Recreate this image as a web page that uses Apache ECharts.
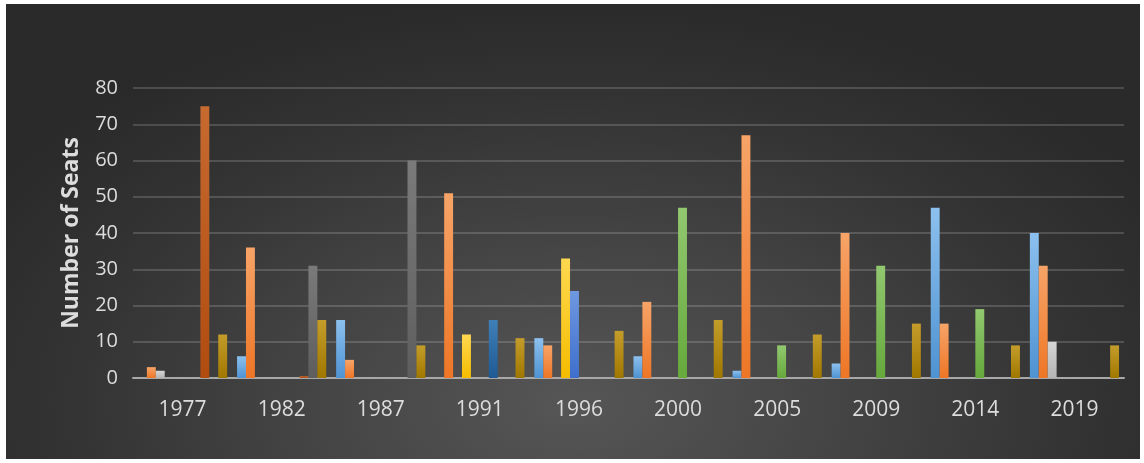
<!DOCTYPE html>
<html>
<head>
<meta charset="utf-8">
<script src="https://cdn.jsdelivr.net/npm/echarts@6/dist/echarts.min.js"></script>
<style>
  html, body { margin: 0; padding: 0; background: #ffffff; }
  #bg { position: absolute; left: 6px; top: 4px; width: 1134px; height: 455px;
        background: radial-gradient(ellipse 60% 90% at 50% 88%, #565656 0%, #444444 40%, #333333 75%, #2a2a2a 100%); }
  #chart { position: absolute; left: 0; top: 0; width: 1144px; height: 463px; }
</style>
</head>
<body>
<div id="bg"></div>
<div id="chart"></div>
<script>
const categories = ['1977', '1982', '1987', '1991', '1996', '2000', '2005', '2009', '2014', '2019'];
const yTicks = [0, 10, 20, 30, 40, 50, 60, 70, 80];

const series1 = [0, 6, 16, 0, 11, 6, 2, 4, 47, 40];
const series2 = [3, 36, 5, 51, 9, 21, 67, 40, 15, 31];
const series3 = [2, 0, 0, 0, 0, 0, 0, 0, 0, 10];
const series4 = [0, 0, 0, 12, 33, 0, 0, 0, 0, 0];
const series5 = [0, 0, 0, 0, 24, 0, 0, 0, 0, 0];
const series6 = [0, 0, 0, 0, 0, 47, 9, 31, 19, 0];
const series7 = [0, 0, 0, 16, 0, 0, 0, 0, 0, 0];
const series8 = [75, 0.5, 0, 0, 0, 0, 0, 0, 0, 0];
const series9 = [0, 31, 60, 0, 0, 0, 0, 0, 0, 0];
const series10 = [12, 16, 9, 11, 13, 16, 12, 15, 9, 9];

const seriesNames = ['Series 1', 'Series 2', 'Series 3', 'Series 4', 'Series 5',
                     'Series 6', 'Series 7', 'Series 8', 'Series 9', 'Series 10'];
const seriesData = [series1, series2, series3, series4, series5,
                    series6, series7, series8, series9, series10];
const topColors = ['#8cc0ee', '#f7a468', '#d6d6d6', '#ffd850', '#6f98e0',
                   '#92c870', '#3f7fb8', '#c66a30', '#7a7a7a', '#c49c2a'];
const baseColors = ['#4f93d2', '#ee7626', '#b4b4b4', '#f5bd00', '#3e6fcc',
                    '#66a93c', '#1f5a94', '#b04c10', '#5e5e5e', '#a07800'];

const chart = echarts.init(document.getElementById('chart'), null, { renderer: 'canvas' });

const fontFam = '"Open Sans", Lato, sans-serif';

const option = {
  backgroundColor: 'transparent',
  animation: false,
  grid: { left: 133, right: 20, top: 88, bottom: 85, containLabel: false },
  xAxis: {
    type: 'category',
    data: categories,
    axisLine: { show: true, lineStyle: { color: '#a8a8a8', width: 2 } },
    axisTick: { show: false },
    axisLabel: { color: '#dcdcdc', fontSize: 21, fontFamily: fontFam, margin: 22 },
    splitLine: { show: false }
  },
  yAxis: {
    type: 'value',
    min: yTicks[0],
    max: yTicks[yTicks.length - 1],
    interval: 10,
    name: 'Number of Seats',
    nameLocation: 'middle',
    nameGap: 50,
    nameRotate: 90,
    nameTextStyle: { color: '#dcdcdc', fontSize: 23, fontWeight: 'bold', fontFamily: fontFam },
    axisLine: { show: false },
    axisTick: { show: false },
    axisLabel: { color: '#dcdcdc', fontSize: 20, fontFamily: fontFam, margin: 15 },
    splitLine: { show: true, lineStyle: { color: 'rgba(255,255,255,0.16)', width: 2 } }
  },
  series: seriesData.map((d, i) => ({
    name: seriesNames[i],
    type: 'bar',
    data: d,
    barGap: '0%',
    barCategoryGap: '10%',
    itemStyle: {
      color: new echarts.graphic.LinearGradient(0, 0, 0, 1, [
        { offset: 0, color: topColors[i] },
        { offset: 1, color: baseColors[i] }
      ])
    }
  }))
};

chart.setOption(option);
</script>
</body>
</html>
